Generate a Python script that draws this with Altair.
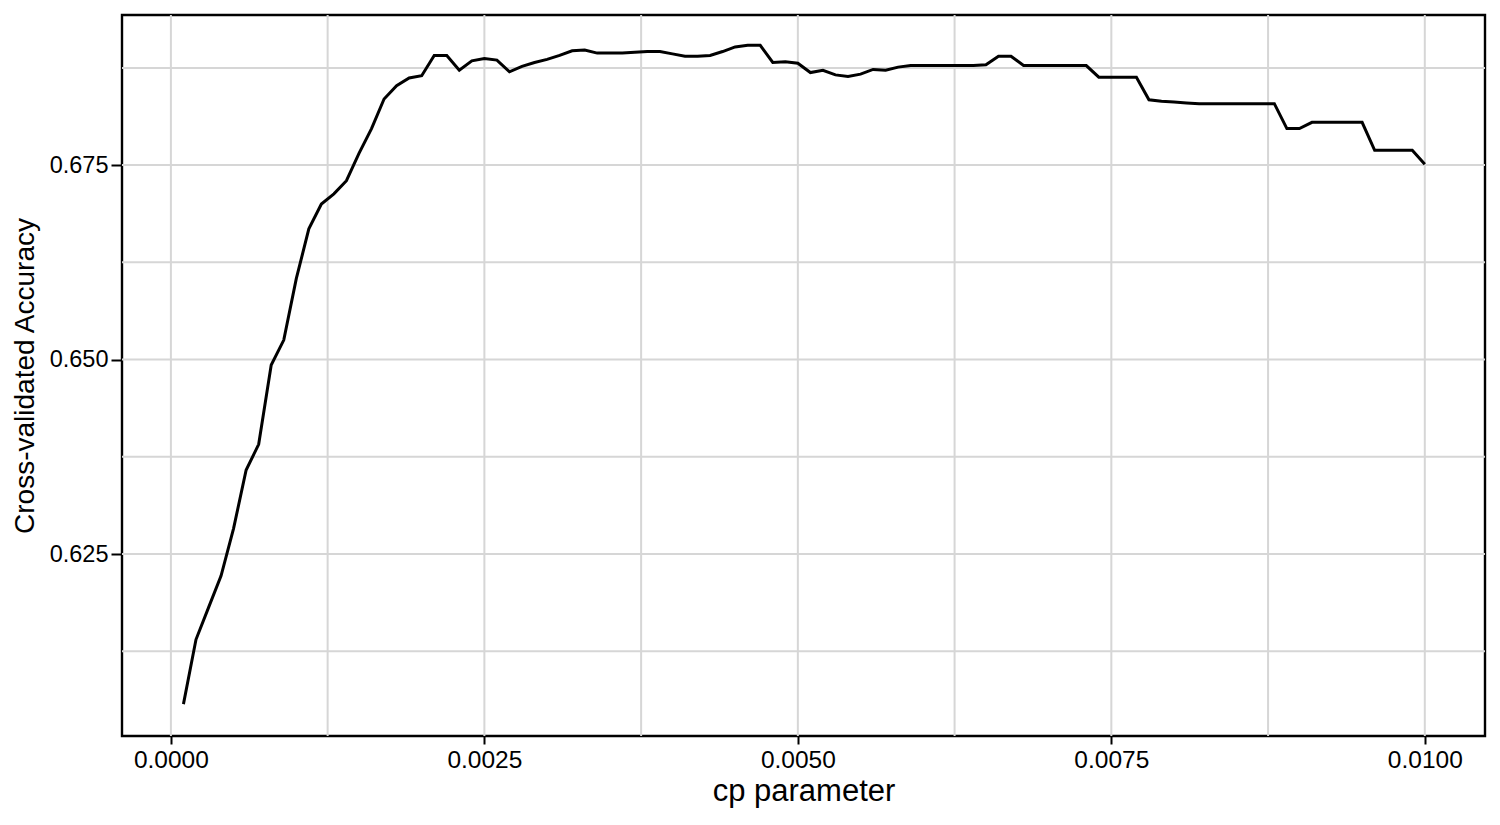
import altair as alt
import pandas as pd

cp = [0.0001, 0.0002, 0.0003, 0.0004, 0.0005, 0.0006, 0.0007, 0.0008, 0.0009, 0.0010,
      0.0011, 0.0012, 0.0013, 0.0014, 0.0015, 0.0016, 0.0017, 0.0018, 0.0019, 0.0020,
      0.0021, 0.0022, 0.0023, 0.0024, 0.0025, 0.0026, 0.0027, 0.0028, 0.0029, 0.0030,
      0.0031, 0.0032, 0.0033, 0.0034, 0.0035, 0.0036, 0.0037, 0.0038, 0.0039, 0.0040,
      0.0041, 0.0042, 0.0043, 0.0044, 0.0045, 0.0046, 0.0047, 0.0048, 0.0049, 0.0050,
      0.0051, 0.0052, 0.0053, 0.0054, 0.0055, 0.0056, 0.0057, 0.0058, 0.0059, 0.0060,
      0.0061, 0.0062, 0.0063, 0.0064, 0.0065, 0.0066, 0.0067, 0.0068, 0.0069, 0.0070,
      0.0071, 0.0072, 0.0073, 0.0074, 0.0075, 0.0076, 0.0077, 0.0078, 0.0079, 0.0080,
      0.0081, 0.0082, 0.0083, 0.0084, 0.0085, 0.0086, 0.0087, 0.0088, 0.0089, 0.0090,
      0.0091, 0.0092, 0.0093, 0.0094, 0.0095, 0.0096, 0.0097, 0.0098, 0.0099, 0.0100]

accuracy = [0.6057, 0.6140, 0.6181, 0.6222, 0.6283, 0.6358, 0.6391, 0.6493, 0.6525, 0.6604,
            0.6668, 0.6700, 0.6713, 0.6730, 0.6765, 0.6797, 0.6835, 0.6852, 0.6862, 0.6865,
            0.6891, 0.6891, 0.6872, 0.6884, 0.6887, 0.6885, 0.6870, 0.6877, 0.6882, 0.6886,
            0.6891, 0.6897, 0.6898, 0.6894, 0.6894, 0.6894, 0.6895, 0.6896, 0.6896, 0.6893,
            0.6890, 0.6890, 0.6891, 0.6896, 0.6902, 0.6904, 0.6904, 0.6882, 0.6883, 0.6881,
            0.6869, 0.6872, 0.6866, 0.6864, 0.6867, 0.6873, 0.6872, 0.6876, 0.6878, 0.6878,
            0.6878, 0.6878, 0.6878, 0.6878, 0.6879, 0.6890, 0.6890, 0.6878, 0.6878, 0.6878,
            0.6878, 0.6878, 0.6878, 0.6863, 0.6863, 0.6863, 0.6863, 0.6834, 0.6832, 0.6831,
            0.6830, 0.6829, 0.6829, 0.6829, 0.6829, 0.6829, 0.6829, 0.6829, 0.6797, 0.6797,
            0.6805, 0.6805, 0.6805, 0.6805, 0.6805, 0.6769, 0.6769, 0.6769, 0.6769, 0.6751]

x_ticks = [0.0, 0.0025, 0.005, 0.0075, 0.01]
x_grid = [0.0, 0.00125, 0.0025, 0.00375, 0.005, 0.00625, 0.0075, 0.00875, 0.01]
y_ticks = [0.625, 0.65, 0.675]
y_grid = [0.6125, 0.625, 0.6375, 0.65, 0.6625, 0.675, 0.6875]

df = pd.DataFrame({"cp": cp, "acc": accuracy})
xg = pd.DataFrame({"v": x_grid})
yg = pd.DataFrame({"v": y_grid})

xscale = alt.Scale(domain=[-0.00039, 0.01048], nice=False, zero=False)
yscale = alt.Scale(domain=[0.6016, 0.6943], nice=False, zero=False)
xaxis = alt.Axis(title="cp parameter", values=x_ticks, format=".4f",
                 grid=False, titlePadding=5)
yaxis = alt.Axis(title="Cross-validated Accuracy", values=y_ticks, format=".3f",
                 grid=False, titlePadding=10)
grid_color = "#d6d6d6"

vgrid = alt.Chart(xg).mark_rule(color=grid_color, strokeWidth=2).encode(
    x=alt.X("v:Q", scale=xscale, axis=xaxis)
)
hgrid = alt.Chart(yg).mark_rule(color=grid_color, strokeWidth=2).encode(
    y=alt.Y("v:Q", scale=yscale, axis=yaxis)
)

line = alt.Chart(df).mark_line(color="black", strokeWidth=3).encode(
    x=alt.X("cp:Q", scale=xscale, axis=xaxis),
    y=alt.Y("acc:Q", scale=yscale, axis=yaxis),
)

chart = alt.layer(vgrid, hgrid, line).properties(
    width=1363,
    height=721,
    background="white",
    autosize=alt.AutoSizeParams(type="none"),
    padding={"left": 114, "top": 7, "right": 7, "bottom": 81},
).configure_view(
    stroke="black", strokeWidth=2.4
).configure_axis(
    domain=False,
    ticks=True,
    tickColor="black",
    tickWidth=2,
    labelColor="black",
    labelFont="Liberation Sans",
    titleFont="Liberation Sans",
    titleFontWeight="normal",
    titleColor="black",
).configure_axisX(
    tickSize=8,
    labelFontSize=24.5,
    labelPadding=4,
    titleFontSize=31,
).configure_axisY(
    tickSize=11,
    labelFontSize=23.5,
    labelPadding=3,
    titleFontSize=28,
)

chart.save("out.html", embed_options={"renderer": "svg", "actions": False})
